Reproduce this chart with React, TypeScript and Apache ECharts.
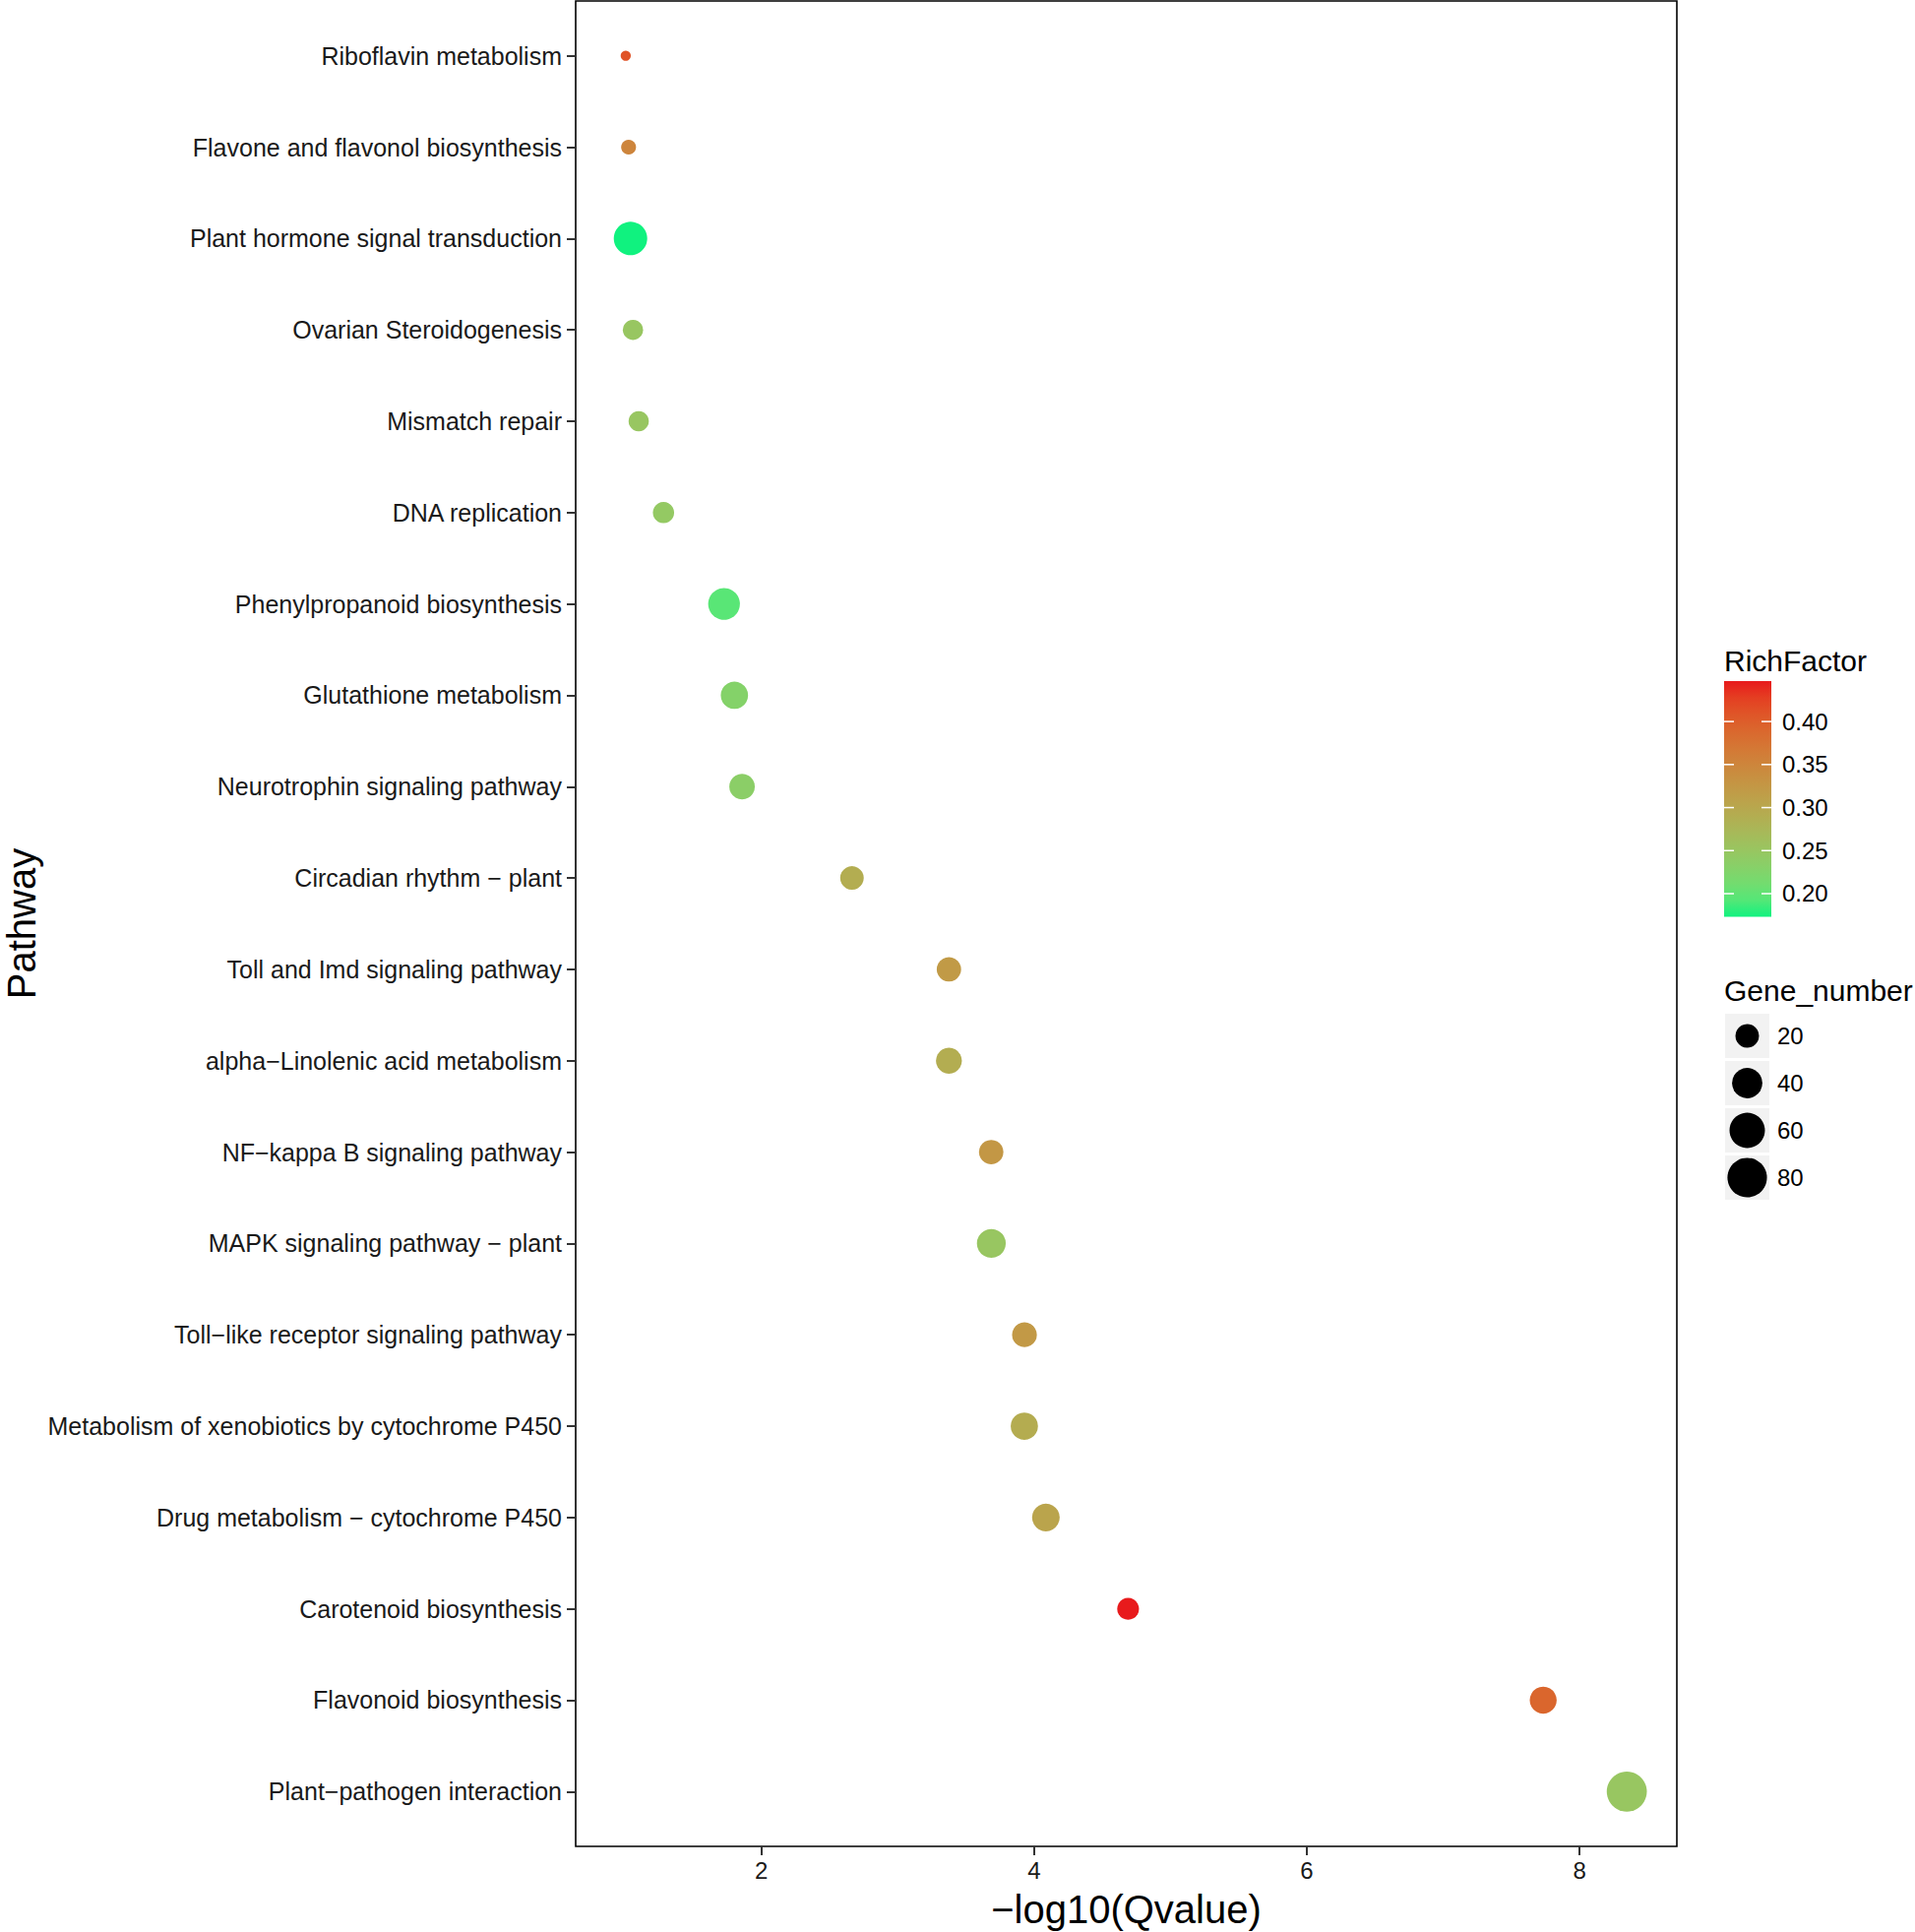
import React, { useEffect, useRef } from "react";
import * as echarts from "echarts";

// ---------------- data ----------------
const pathways = [
  "Riboflavin metabolism",
  "Flavone and flavonol biosynthesis",
  "Plant hormone signal transduction",
  "Ovarian Steroidogenesis",
  "Mismatch repair",
  "DNA replication",
  "Phenylpropanoid biosynthesis",
  "Glutathione metabolism",
  "Neurotrophin signaling pathway",
  "Circadian rhythm \u2212 plant",
  "Toll and Imd signaling pathway",
  "alpha\u2212Linolenic acid metabolism",
  "NF\u2212kappa B signaling pathway",
  "MAPK signaling pathway \u2212 plant",
  "Toll\u2212like receptor signaling pathway",
  "Metabolism of xenobiotics by cytochrome P450",
  "Drug metabolism \u2212 cytochrome P450",
  "Carotenoid biosynthesis",
  "Flavonoid biosynthesis",
  "Plant\u2212pathogen interaction",
];
const negLog10Q = [
  1.005, 1.026, 1.04, 1.058, 1.1, 1.282, 1.726, 1.802, 1.858, 2.664, 3.375,
  3.375, 3.685, 3.686, 3.929, 3.928, 4.086, 4.689, 7.733, 8.346,
];
const geneNumber = [
  4, 6, 52, 13, 13, 15, 45, 30, 25, 20, 22, 26, 22, 35, 23, 30, 31, 16, 29, 83,
];
const richFactor = [
  0.41, 0.35, 0.173, 0.25, 0.25, 0.245, 0.195, 0.228, 0.235, 0.29, 0.32,
  0.29, 0.325, 0.25, 0.322, 0.292, 0.305, 0.447, 0.39, 0.25,
];
const xTicks = [2, 4, 6, 8];
const colorTicks = [0.2, 0.25, 0.3, 0.35, 0.4];
const sizeBreaks = [20, 40, 60, 80];

// ---------------- styling helpers ----------------
const FONT = "'Liberation Sans', Arial, Helvetica, sans-serif";
const LOW = "#10F27F";
const HIGH = "#E81A1C";

function hexToRgb(h: string) {
  const n = parseInt(h.slice(1), 16);
  return [(n >> 16) & 255, (n >> 8) & 255, n & 255];
}
function toLab(hex: string) {
  const lin = hexToRgb(hex).map((c) => {
    const v = c / 255;
    return v <= 0.04045 ? v / 12.92 : Math.pow((v + 0.055) / 1.055, 2.4);
  });
  const [r, g, b] = lin;
  const X = (0.4124 * r + 0.3576 * g + 0.1805 * b) / 0.95047;
  const Y = 0.2126 * r + 0.7152 * g + 0.0722 * b;
  const Z = (0.0193 * r + 0.1192 * g + 0.9505 * b) / 1.08883;
  const f = (t: number) => (t > 0.008856 ? Math.cbrt(t) : 7.787 * t + 16 / 116);
  const fx = f(X), fy = f(Y), fz = f(Z);
  return [116 * fy - 16, 500 * (fx - fy), 200 * (fy - fz)];
}
function labToHex(L: number, a: number, bb: number) {
  const fy = (L + 16) / 116;
  const fx = fy + a / 500;
  const fz = fy - bb / 200;
  const inv = (t: number) => (t * t * t > 0.008856 ? t * t * t : (t - 16 / 116) / 7.787);
  const X = inv(fx) * 0.95047, Y = inv(fy), Z = inv(fz) * 1.08883;
  const rl = 3.2406 * X - 1.5372 * Y - 0.4986 * Z;
  const gl = -0.9689 * X + 1.8758 * Y + 0.0415 * Z;
  const bl = 0.0557 * X - 0.204 * Y + 1.057 * Z;
  const g = (v: number) => {
    const c = v <= 0.0031308 ? 12.92 * v : 1.055 * Math.pow(v, 1 / 2.4) - 0.055;
    const x = Math.max(0, Math.min(255, Math.round(c * 255)));
    return x.toString(16).padStart(2, "0");
  };
  return "#" + g(rl) + g(gl) + g(bl);
}
function labRamp(n: number) {
  const a = toLab(LOW), b = toLab(HIGH);
  const out: string[] = [];
  for (let i = 0; i < n; i++) {
    const t = i / (n - 1);
    out.push(labToHex(a[0] + (b[0] - a[0]) * t, a[1] + (b[1] - a[1]) * t, a[2] + (b[2] - a[2]) * t));
  }
  return out;
}

export default function App() {
  const ref = useRef<HTMLDivElement>(null);
  useEffect(() => {
    if (!ref.current) return;
    const chart = echarts.init(ref.current, null, { renderer: "svg" });

    const gMin = Math.min(...geneNumber);
    const gMax = Math.max(...geneNumber);
    const rMin = Math.min(...richFactor);
    const rMax = Math.max(...richFactor);
    const D_MIN = 10.3, D_MAX = 40.7;
    const sizeOf = (g: number) =>
      D_MIN + (D_MAX - D_MIN) * Math.sqrt(Math.max(0, (g - gMin) / (gMax - gMin)));

    const xPad = (Math.max(...negLog10Q) - Math.min(...negLog10Q)) * 0.05;
    const xMin = Math.min(...negLog10Q) - xPad;
    const xMax = Math.max(...negLog10Q) + xPad;

    const ramp = labRamp(15);
    const data = pathways.map((_, i) => [negLog10Q[i], i, geneNumber[i], richFactor[i]]);

    // layout
    const GL = 585, GT = 1, GW = 1119, GH = 1875;
    const CB_X = 1752, CB_W = 48, CB_TOP = 692, CB_BOT = 931.6;
    const cbY = (v: number) => CB_BOT - ((v - rMin) / (rMax - rMin)) * (CB_BOT - CB_TOP);
    const KEY_X = 1753, KEY_W = 45, KEY_TOP = 1030, KEY_STEP = 48, KEY_H = 45;

    const graphics: any[] = [];
    graphics.push({
      type: "text",
      x: 22,
      y: GT + GH / 2,
      rotation: Math.PI / 2,
      style: { text: "Pathway", font: `40px ${FONT}`, fill: "#000", align: "center", verticalAlign: "middle" },
    });
    graphics.push({
      type: "text",
      x: GL + GW / 2,
      y: 1940,
      style: { text: "\u2212log10(Qvalue)", font: `40px ${FONT}`, fill: "#000", align: "center", verticalAlign: "middle" },
    });
    // colour legend
    graphics.push({
      type: "text",
      x: CB_X,
      y: 671,
      style: { text: "RichFactor", font: `30px ${FONT}`, fill: "#000", align: "left", verticalAlign: "middle" },
    });
    graphics.push({
      type: "rect",
      shape: { x: CB_X, y: CB_TOP, width: CB_W, height: CB_BOT - CB_TOP },
      style: {
        fill: {
          type: "linear", x: 0, y: 1, x2: 0, y2: 0,
          colorStops: ramp.map((c, i) => ({ offset: i / (ramp.length - 1), color: c })),
        },
      },
    });
    colorTicks.forEach((t) => {
      const y = cbY(t);
      graphics.push({ type: "line", shape: { x1: CB_X, y1: y, x2: CB_X + 10, y2: y }, style: { stroke: "#fff", lineWidth: 1.5 } });
      graphics.push({ type: "line", shape: { x1: CB_X + CB_W - 10, y1: y, x2: CB_X + CB_W, y2: y }, style: { stroke: "#fff", lineWidth: 1.5 } });
      graphics.push({
        type: "text",
        x: 1811,
        y,
        style: { text: t.toFixed(2), font: `24px ${FONT}`, fill: "#000", align: "left", verticalAlign: "middle" },
      });
    });
    // size legend
    graphics.push({
      type: "text",
      x: CB_X,
      y: 1006,
      style: { text: "Gene_number", font: `30px ${FONT}`, fill: "#000", align: "left", verticalAlign: "middle" },
    });
    sizeBreaks.forEach((g, i) => {
      const top = KEY_TOP + i * KEY_STEP;
      const cy = top + KEY_H / 2;
      graphics.push({ type: "rect", shape: { x: KEY_X, y: top, width: KEY_W, height: KEY_H }, style: { fill: "#F2F2F2" } });
      graphics.push({ type: "circle", shape: { cx: KEY_X + KEY_W / 2, cy, r: sizeOf(g) / 2 }, style: { fill: "#000" } });
      graphics.push({
        type: "text",
        x: 1806,
        y: cy,
        style: { text: String(g), font: `24px ${FONT}`, fill: "#000", align: "left", verticalAlign: "middle" },
      });
    });

    chart.setOption({
      animation: false,
      backgroundColor: "#fff",
      grid: { left: GL, top: GT, width: GW, height: GH, show: true, borderColor: "#000", borderWidth: 1.6, backgroundColor: "transparent" },
      xAxis: {
        type: "value",
        min: xMin,
        max: xMax,
        axisLine: { show: false, onZero: false },
        splitLine: { show: false },
        axisTick: { show: true, length: 9, lineStyle: { color: "#333", width: 2 }, customValues: xTicks },
        axisLabel: { customValues: xTicks, fontSize: 24, color: "#1a1a1a", fontFamily: FONT, margin: 12 },
      },
      yAxis: {
        type: "value",
        min: -0.6,
        max: pathways.length - 1 + 0.6,
        inverse: true,
        axisLine: { show: false, onZero: false },
        splitLine: { show: false },
        axisTick: { show: true, length: 9, lineStyle: { color: "#333", width: 2 }, customValues: pathways.map((_, i) => i) },
        axisLabel: {
          customValues: pathways.map((_, i) => i),
          formatter: (v: number) => pathways[Math.round(v)] ?? "",
          fontSize: 25,
          color: "#1a1a1a",
          fontFamily: FONT,
          margin: 14,
        },
      },
      visualMap: {
        type: "continuous",
        show: false,
        dimension: 3,
        min: rMin,
        max: rMax,
        seriesIndex: 0,
        inRange: { color: ramp },
      },
      series: [
        {
          type: "scatter",
          data,
          symbol: "circle",
          symbolSize: (d: number[]) => sizeOf(d[2]),
          itemStyle: { opacity: 1 },
        },
      ],
      graphic: graphics,
    });
    return () => chart.dispose();
  }, []);
  return <div ref={ref} style={{ position: "fixed", left: 0, top: 0, width: 1946, height: 1963 }} />;
}
